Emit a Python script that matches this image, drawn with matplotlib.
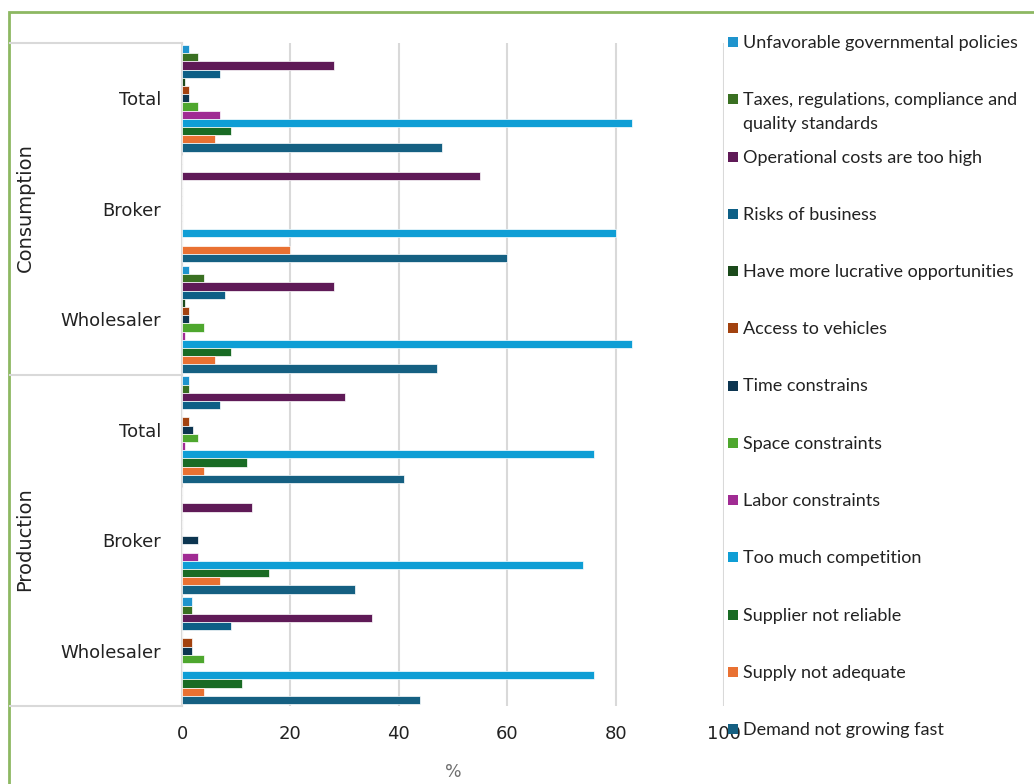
import matplotlib
matplotlib.use("Agg")
import matplotlib.pyplot as plt
from matplotlib.patches import Rectangle
from matplotlib.lines import Line2D
import numpy as np

# -----------------------------
# Data (percent of respondents)
# -----------------------------
reasons = [
    "Unfavorable governmental policies",
    "Taxes, regulations, compliance and\nquality standards",
    "Operational costs are too high",
    "Risks of business",
    "Have more lucrative opportunities",
    "Access to vehicles",
    "Time constrains",
    "Space constraints",
    "Labor constraints",
    "Too much competition",
    "Supplier not reliable",
    "Supply not adequate",
    "Demand not growing fast",
]
colors = [
    "#1F94CD", "#3A7022", "#5F1A57", "#0D5F86", "#1B4A1B", "#A2420F",
    "#0C3550", "#4EA72E", "#A02B93", "#0F9ED5", "#196B24", "#E97132",
    "#156082",
]

group_labels = ["Total", "Broker", "Wholesaler", "Total", "Broker", "Wholesaler"]
sectors = ["Consumption", "Production"]

cons_total = [1.2, 3, 28, 7, 0.6, 1.2, 1.2, 3, 7, 83, 9, 6, 48]
cons_broker = [0, 0, 55, 0, 0, 0, 0, 0, 0, 80, 0, 20, 60]
cons_wholesaler = [1.3, 4, 28, 8, 0.6, 1.3, 1.3, 4, 0.6, 83, 9, 6, 47]
prod_total = [1.3, 1.3, 30, 7, 0, 1.3, 2, 3, 0.6, 76, 12, 4, 41]
prod_broker = [0, 0, 13, 0, 0, 0, 3, 0, 3, 74, 16, 7, 32]
prod_wholesaler = [1.8, 1.8, 35, 9, 0, 1.8, 1.8, 4, 0, 76, 11, 4, 44]

groups = [cons_total, cons_broker, cons_wholesaler,
          prod_total, prod_broker, prod_wholesaler]

W, H = 1034, 784


def fx(px):
    return px / W


def fy(py):
    return 1 - py / H


narrow = ["Liberation Sans Narrow", "DejaVu Sans"]
grey_line = "#D9D9D9"

fig = plt.figure(figsize=(W / 100, H / 100), dpi=100)
ax = fig.add_axes([fx(182), fy(706), fx(724) - fx(182), fy(43) - fy(706)])

# -----------------------------
# Bars
# -----------------------------
vals = np.array(groups)            # shape (6 groups, 13 reasons)
n = len(reasons)
pitch = 0.0742
centers = np.arange(len(groups))
for i in range(n):
    ax.barh(centers + (i - (n - 1) / 2) * pitch, vals[:, i], height=pitch,
            color=colors[i], edgecolor="white", linewidth=0.5, zorder=3)

ax.set_xlim(0, 100)
ax.set_ylim(len(groups) - 0.5, -0.5)
ax.set_xticks(np.arange(0, 101, 20))
ax.tick_params(axis="x", length=0, pad=14, labelsize=13)
for t in ax.get_xticklabels():
    t.set_family(narrow)
    t.set_color("#222222")
ax.set_yticks(centers)
ax.set_yticklabels(group_labels, fontsize=13, family="DejaVu Sans",
                   color="#222222")
ax.tick_params(axis="y", length=0, pad=15)
ax.grid(axis="x", color=grey_line, linewidth=1.5, zorder=0)
for s in ["top", "right", "bottom"]:
    ax.spines[s].set_visible(False)
ax.spines["left"].set_color(grey_line)
ax.spines["left"].set_linewidth(1.5)

ax.set_xlabel("%", fontsize=12.5, color="#6E6E6E", family=narrow, labelpad=14)

# multi-level category frame
for py in [43, 375, 706]:
    fig.add_artist(Line2D([fx(10), fx(182)], [fy(py), fy(py)],
                          color=grey_line, linewidth=1.5))
fig.text(fx(25), fy(208), sectors[0], rotation=90, ha="center", va="center",
         fontsize=14, family=narrow, color="#222222")
fig.text(fx(25), fy(539), sectors[1], rotation=90, ha="center", va="center",
         fontsize=14, family=narrow, color="#222222")

# -----------------------------
# Legend (manual, right side)
# -----------------------------
for i, (lab, c) in enumerate(zip(reasons, colors)):
    yc = 42 + i * 57.25
    fig.add_artist(Rectangle((fx(728), fy(yc + 5)), fx(10), 10 / H,
                             facecolor=c, edgecolor="none"))
    for k, line in enumerate(lab.split("\n")):
        fig.text(fx(743), fy(yc + 6 + k * 24), line, ha="left",
                 va="baseline", fontsize=13, family="Lato", color="#222222")

# green outer border (cropped on right / bottom)
fig.add_artist(Rectangle((fx(9), fy(800)), fx(1100), 788 / H,
                         facecolor="none", edgecolor="#8DB862", linewidth=2))

fig.savefig("out.png", dpi=100)
